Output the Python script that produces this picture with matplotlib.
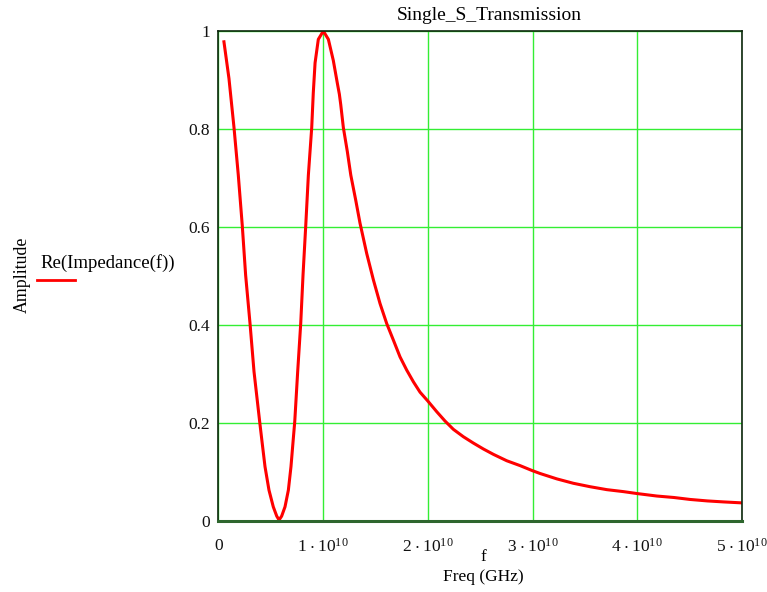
import matplotlib
matplotlib.use("Agg")
import matplotlib.pyplot as plt
from matplotlib.lines import Line2D

plt.rcParams['font.family'] = ['Liberation Serif', 'DejaVu Serif']
plt.rcParams['mathtext.fontset'] = 'custom'
plt.rcParams['mathtext.rm'] = 'Liberation Serif'

# values (f in units of 1e10 Hz)
freq = [0.054, 0.102, 0.150, 0.191, 0.229, 0.261, 0.303, 0.341, 0.395, 0.417,
        0.446, 0.484, 0.525, 0.558, 0.580, 0.605, 0.637, 0.669, 0.694, 0.715,
        0.730, 0.758, 0.787, 0.809, 0.835, 0.860, 0.892, 0.907, 0.924, 0.955,
        1.003, 1.051, 1.098, 1.137, 1.156, 1.169, 1.194, 1.232, 1.265, 1.312,
        1.353, 1.417, 1.481, 1.544, 1.608, 1.672, 1.735, 1.799, 1.863, 1.926,
        2.000, 2.086, 2.165, 2.245, 2.340, 2.436, 2.531, 2.627, 2.754, 2.882,
        2.996, 3.072, 3.232, 3.390, 3.550, 3.710, 3.868, 4.000, 4.187, 4.350,
        4.505, 4.670, 4.823, 5.000]
re_imp = [0.978, 0.903, 0.803, 0.706, 0.603, 0.502, 0.403, 0.305, 0.203, 0.163,
          0.111, 0.063, 0.029, 0.010, 0.002, 0.010, 0.029, 0.063, 0.111, 0.165,
          0.203, 0.305, 0.403, 0.502, 0.603, 0.706, 0.803, 0.874, 0.935, 0.983,
          1.000, 0.983, 0.940, 0.893, 0.871, 0.850, 0.803, 0.754, 0.706, 0.655,
          0.608, 0.546, 0.492, 0.444, 0.403, 0.369, 0.335, 0.308, 0.284, 0.263,
          0.245, 0.223, 0.204, 0.187, 0.172, 0.159, 0.147, 0.136, 0.123, 0.113,
          0.103, 0.097, 0.086, 0.077, 0.070, 0.064, 0.060, 0.056, 0.051, 0.048,
          0.044, 0.041, 0.039, 0.037]
freq_hz = [v * 1e10 for v in freq]

xticks = [0, 1e10, 2e10, 3e10, 4e10, 5e10]
xlabels = ["0"] + [r"$\mathregular{%d\cdot10^{10}}$" % i for i in range(1, 6)]
yticks = [0, 0.2, 0.4, 0.6, 0.8, 1]
ylabels = ["0", "0.2", "0.4", "0.6", "0.8", "1"]

fig = plt.figure(figsize=(7.67, 5.92), dpi=100)
ax = fig.add_axes([0.2846, 0.1199, 0.6828, 0.8277])
ax.plot(freq_hz, re_imp, color="#ff0000", lw=2.2, solid_joinstyle="round")
ax.set_xlim(0, 5e10)
ax.set_ylim(0, 1)
ax.set_xticks(xticks)
ax.set_xticklabels(xlabels)
ax.set_yticks(yticks)
ax.set_yticklabels(ylabels)
ax.grid(True, color="#33ee33", lw=1.0)
ax.tick_params(length=0, labelsize=12.5, colors="#111111")
ax.tick_params(axis="x", pad=12)
ax.tick_params(axis="y", pad=6)
for s in ["left", "top", "right"]:
    ax.spines[s].set_color("#0d260d")
    ax.spines[s].set_linewidth(1.2)
ax.spines["bottom"].set_color("#2e662e")
ax.spines["bottom"].set_linewidth(2.2)

fig.text(489 / 767, 1 - 15 / 592, "Single_S_Transmission", ha="center", va="center", fontsize=14)
fig.text(22 / 767, 1 - 275 / 592, "Amplitude", rotation=90, ha="center", va="center", fontsize=12.8)
fig.text(40 / 767, 1 - 263 / 592, "Re(Impedance(f))", ha="left", va="center", fontsize=13.5)
fig.add_artist(Line2D([37 / 767, 75 / 767], [1 - 280 / 592, 1 - 280 / 592],
                      transform=fig.transFigure, color="#ff0000", lw=2.0))
fig.text(483 / 767, 1 - 557 / 592, "f", ha="center", va="center", fontsize=12.5)
fig.text(483 / 767, 1 - 577 / 592, "Freq (GHz)", ha="center", va="center", fontsize=12.5)

fig.savefig("out.png", dpi=100)
